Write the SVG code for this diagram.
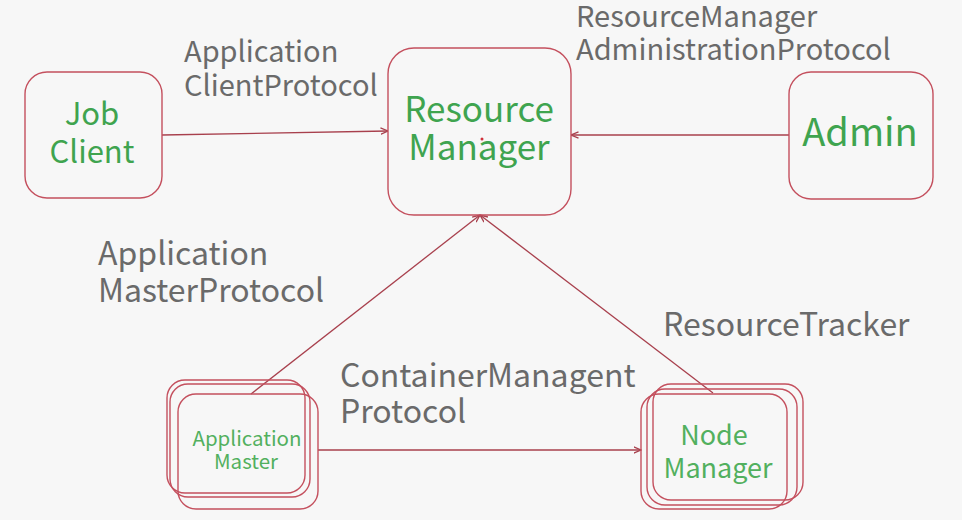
<svg xmlns="http://www.w3.org/2000/svg" width="962" height="520" viewBox="0 0 962 520">
<defs>
<style>
.bg{fill:#f7f7f7}
.box{fill:none;stroke:#c4505e;stroke-width:1.4}
.link{fill:none;stroke:#a8404d;stroke-width:1.3}
.lbl{font-family:"Noto Sans CJK SC","Noto Sans",sans-serif;fill:#6a6a6a}
.up{font-size:29px}
.low{font-size:32px}
.nt{font-family:"Noto Sans CJK SC","Noto Sans",sans-serif;fill:#3fa44f;text-anchor:middle}
.nl{fill:#52b05e}
</style>
<marker id="arr" viewBox="0 0 8 8" refX="7.5" refY="4" markerWidth="8" markerHeight="8" markerUnits="userSpaceOnUse" orient="auto">
<path d="M0,0.8 L7.5,4 L0,7.2" fill="none" stroke="#a8404d" stroke-width="1.3"/>
</marker>
</defs>
<rect class="bg" x="0" y="0" width="962" height="520"/>

<g id="connectors">
<line class="link" x1="162" y1="135" x2="388" y2="131" marker-end="url(#arr)"/>
<line class="link" x1="789" y1="135" x2="571" y2="135" marker-end="url(#arr)"/>
<line class="link" x1="251" y1="394" x2="480" y2="215" marker-end="url(#arr)"/>
<line class="link" x1="713" y1="393" x2="480" y2="215" marker-end="url(#arr)"/>
<line class="link" x1="318" y1="450" x2="641" y2="450" marker-end="url(#arr)"/>
</g>

<g id="labels">
<text class="lbl up" x="184" y="62">Application</text>
<text class="lbl up" x="184" y="96">ClientProtocol</text>
<text class="lbl up" x="576" y="27">ResourceManager</text>
<text class="lbl up" x="576" y="60">AdministrationProtocol</text>
<text class="lbl low" x="98" y="265">Application</text>
<text class="lbl low" x="98" y="302">MasterProtocol</text>
<text class="lbl low" x="663" y="336">ResourceTracker</text>
<text class="lbl low" x="340" y="387">ContainerManagent</text>
<text class="lbl low" x="340" y="423">Protocol</text>
</g>

<g id="job-client">
<rect class="box" x="25" y="72" width="137" height="126" rx="22"/>
<text class="nt" x="92" y="125" font-size="31">Job</text>
<text class="nt" x="92" y="163" font-size="31">Client</text>
</g>

<g id="resource-manager">
<rect class="box" x="388" y="48" width="183" height="167" rx="26"/>
<text class="nt" x="479" y="122" font-size="35">Resource</text>
<text class="nt" x="479" y="160" font-size="35">Manager</text>
<circle cx="482" cy="139" r="1.5" fill="#d0303a"/>
</g>

<g id="admin">
<rect class="box" x="789" y="72" width="144" height="127" rx="22"/>
<text class="nt" x="860" y="146" font-size="38">Admin</text>
</g>

<g id="application-master">
<rect class="box" x="167" y="380" width="138" height="113" rx="18"/>
<rect class="box" x="170" y="384" width="140" height="113" rx="18"/>
<rect class="box" x="178" y="394" width="140" height="115" rx="18"/>
<text class="nt nl" x="247" y="446" font-size="20.5">Application</text>
<text class="nt nl" x="246" y="469" font-size="20.5">Master</text>
</g>

<g id="node-manager">
<rect class="box" x="653" y="384" width="150" height="116" rx="18"/>
<rect class="box" x="647" y="389" width="150" height="116" rx="18"/>
<rect class="box" x="641" y="394" width="146" height="115" rx="18"/>
<text class="nt nl" x="714" y="445" font-size="27">Node</text>
<text class="nt nl" x="718" y="478" font-size="27">Manager</text>
</g>
</svg>
